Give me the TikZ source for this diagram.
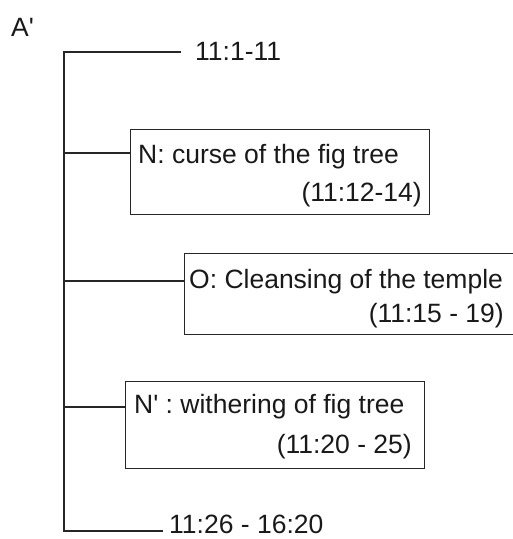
\documentclass[tikz,border=0pt]{standalone}
\usepackage{fontspec}
\setmainfont{Liberation Sans}
\begin{document}
\begin{tikzpicture}[x=1pt,y=-1pt,
  line/.style={draw=black!85, line width=1.1pt},
  box/.style={draw=black!85, line width=1.1pt, anchor=north west, inner sep=0pt},
  txt/.style={inner sep=0pt, font=\fontsize{26.5}{31}\selectfont, text=black!90}]
\useasboundingbox (0,0) rectangle (513,539);
\clip (0,0) rectangle (513,539);
% label
\node[txt, anchor=base west] (A) at (11,36) {A\textquotesingle};
% trunk
\coordinate (t0) at (64,52);
\coordinate (t1) at (64,153);
\coordinate (t2) at (64,281);
\coordinate (t3) at (64,407);
\coordinate (t4) at (64,531);
\coordinate (e0) at (181,52);
\coordinate (e4) at (163,531);
\draw[line] (e0) -- (t0) -- (t4) -- (e4);
\node[txt, anchor=base west] (top) at (195,60) {11:1-11};
\node[txt, anchor=base west] (bot) at (169,533) {11:26 - 16:20};
% boxes
\node[box, minimum width=299pt, minimum height=85pt] (N) at (130,129) {};
\node[box, minimum width=340pt, minimum height=81pt] (O) at (184,253) {};
\node[box, minimum width=299pt, minimum height=87pt] (Np) at (125,381) {};
\draw[line] (t1) -- (t1 -| N.west);
\draw[line] (t2) -- (t2 -| O.west);
\draw[line] (t3) -- (t3 -| Np.west);
% texts
\node[txt, anchor=base west] (N1) at (138,163) {N: curse of the fig tree};
\node[txt, anchor=base east] (N2) at (422,201) {(11:12-14)};
\node[txt, anchor=base west] (O1) at (189,288) {O: Cleansing of the temple};
\node[txt, anchor=base east] (O2) at (504,322) {(11:15 - 19)};
\node[txt, anchor=base west] (Np1) at (134,413) {N\textquotesingle\ : withering of fig tree};
\node[txt, anchor=base east] (Np2) at (412,453) {(11:20 - 25)};
\end{tikzpicture}
\end{document}
